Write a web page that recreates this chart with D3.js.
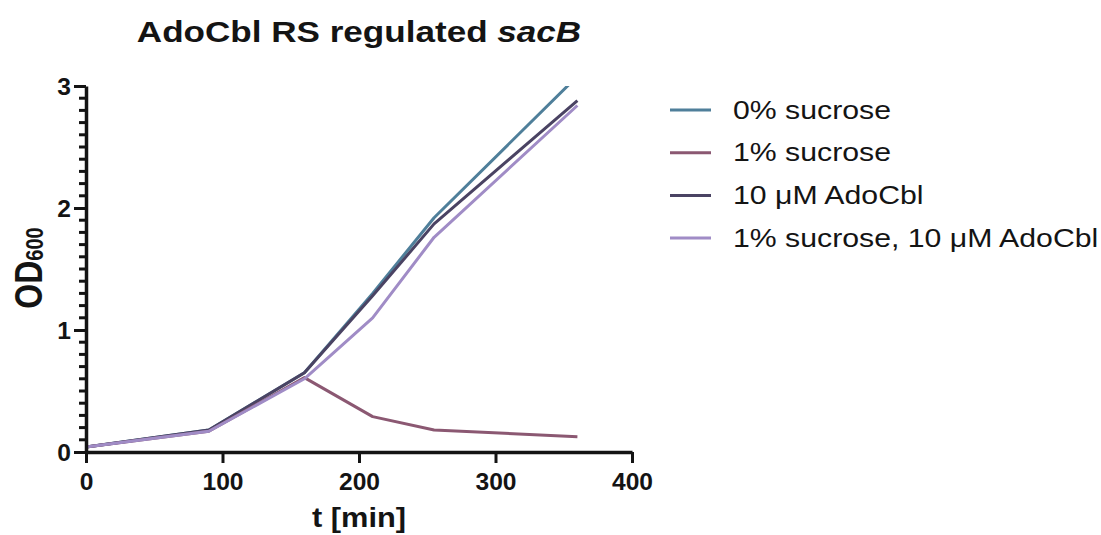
<!DOCTYPE html>
<html>
<head>
<meta charset="utf-8">
<script src="https://cdn.jsdelivr.net/npm/d3@7"></script>
<style>
  html, body { margin: 0; padding: 0; background: #ffffff; }
  svg { display: block; font-family: "Liberation Sans", Arial, sans-serif; }
</style>
</head>
<body>
<svg id="chart" width="1101" height="535"></svg>
<script>
// Sampling times (min)
const times = [0, 90, 160, 210, 255, 360];

// OD600 readings per condition
const seriesNames = ["0% sucrose", "1% sucrose", "10 \u03BCM AdoCbl", "1% sucrose, 10 \u03BCM AdoCbl"];
const sucrose0 = [0.04, 0.18, 0.65, 1.30, 1.92, 3.08];
const sucrose1 = [0.04, 0.17, 0.61, 0.29, 0.18, 0.125];
const adocbl10 = [0.04, 0.18, 0.65, 1.28, 1.87, 2.88];
const sucroseAdocbl = [0.04, 0.17, 0.60, 1.10, 1.76, 2.84];
const seriesColors = ["#4f7f9a", "#8b5872", "#4a4363", "#a08cc6"];

const xTicks = [0, 100, 200, 300, 400];
const yTicks = [0, 1, 2, 3];

const seriesValues = [sucrose0, sucrose1, adocbl10, sucroseAdocbl];

const svg = d3.select("#chart");
const plotLeft = 86, plotRight = 632, plotTop = 86, plotBottom = 452;
const ink = "#141414";

const x = d3.scaleLinear().domain([0, 400]).range([plotLeft, plotRight]);
const y = d3.scaleLinear().domain([0, 3]).range([plotBottom, plotTop]);

// Plot clip: values above the y-axis maximum are cut at the frame
svg.append("defs").append("clipPath").attr("id", "plotClip")
  .append("rect").attr("x", plotLeft).attr("y", plotTop)
  .attr("width", plotRight - plotLeft + 20).attr("height", plotBottom - plotTop + 2);

const line = d3.line().x((d, i) => x(times[i])).y(d => y(d));

const lines = svg.append("g").attr("clip-path", "url(#plotClip)");
// lighter curves drawn last so the lavender sits on top
const order = [0, 2, 1, 3];
order.forEach(k => {
  lines.append("path")
    .datum(seriesValues[k])
    .attr("d", line)
    .attr("fill", "none")
    .attr("stroke", seriesColors[k])
    .attr("stroke-width", 3)
    .attr("stroke-linejoin", "round");
});

// Y axis with minor ticks every 0.1
const yMinor = d3.range(0, 3.0001, 0.1).filter(v => Math.abs(v - Math.round(v)) > 1e-6);
const yAxisG = svg.append("g").attr("transform", `translate(${plotLeft},0)`);
yAxisG.call(d3.axisLeft(y).tickValues(yTicks).tickFormat(d3.format("d")).tickSize(12).tickSizeOuter(0));
yAxisG.selectAll(".minor").data(yMinor).enter().append("line")
  .attr("class", "minor")
  .attr("x1", 0).attr("x2", -7)
  .attr("y1", d => y(d)).attr("y2", d => y(d))
  .attr("stroke", ink).attr("stroke-width", 3);
yAxisG.select(".domain").attr("stroke", ink).attr("stroke-width", 3.5);
yAxisG.selectAll(".tick line").attr("stroke", ink).attr("stroke-width", 3);
yAxisG.selectAll(".tick text")
  .attr("x", -14).attr("dy", "0.36em")
  .attr("font-size", 23).attr("font-weight", "bold").attr("fill", ink)
  .attr("font-family", "Liberation Sans, Arial, sans-serif")
  .attr("transform", "scale(1.07,1)");

// X axis
const xAxisG = svg.append("g").attr("transform", `translate(0,${plotBottom})`);
xAxisG.call(d3.axisBottom(x).tickValues(xTicks).tickSize(11).tickSizeOuter(0));
xAxisG.select(".domain").attr("stroke", ink).attr("stroke-width", 3.5);
xAxisG.selectAll(".tick line").attr("stroke", ink).attr("stroke-width", 3);
xAxisG.selectAll(".tick text")
  .attr("y", 38).attr("dy", null)
  .attr("font-size", 23).attr("font-weight", "bold").attr("fill", ink)
  .attr("font-family", "Liberation Sans, Arial, sans-serif")
  .attr("transform", "scale(1.07,1)");

// Axis titles
svg.append("text")
  .attr("transform", "translate(359,527) scale(1.1,1)")
  .attr("text-anchor", "middle")
  .attr("font-size", 28).attr("font-weight", "bold").attr("fill", ink)
  .text("t [min]");

const yt = svg.append("text")
  .attr("transform", "translate(42,268) rotate(-90) scale(1,1.22)")
  .attr("text-anchor", "middle")
  .attr("font-size", 32).attr("font-weight", "bold").attr("fill", ink);
yt.append("tspan").text("OD");
yt.append("tspan").attr("font-size", 20).attr("dy", 1).text("600");

// Title
const title = svg.append("text")
  .attr("transform", "translate(359,42) scale(1.17,1)")
  .attr("text-anchor", "middle")
  .attr("font-size", 30).attr("font-weight", "bold").attr("fill", ink);
title.append("tspan").text("AdoCbl RS regulated ");
title.append("tspan").attr("font-style", "italic").text("sacB");

// Legend
const legend = svg.append("g");
seriesNames.forEach((name, i) => {
  const ly = 110 + i * 42.7;
  legend.append("line")
    .attr("x1", 670).attr("x2", 711)
    .attr("y1", ly).attr("y2", ly)
    .attr("stroke", seriesColors[i]).attr("stroke-width", 3);
  legend.append("text")
    .attr("transform", `translate(733,${ly + 8.5}) scale(1.21,1)`)
    .attr("font-size", 25).attr("fill", ink)
    .text(name);
});
</script>
</body>
</html>
